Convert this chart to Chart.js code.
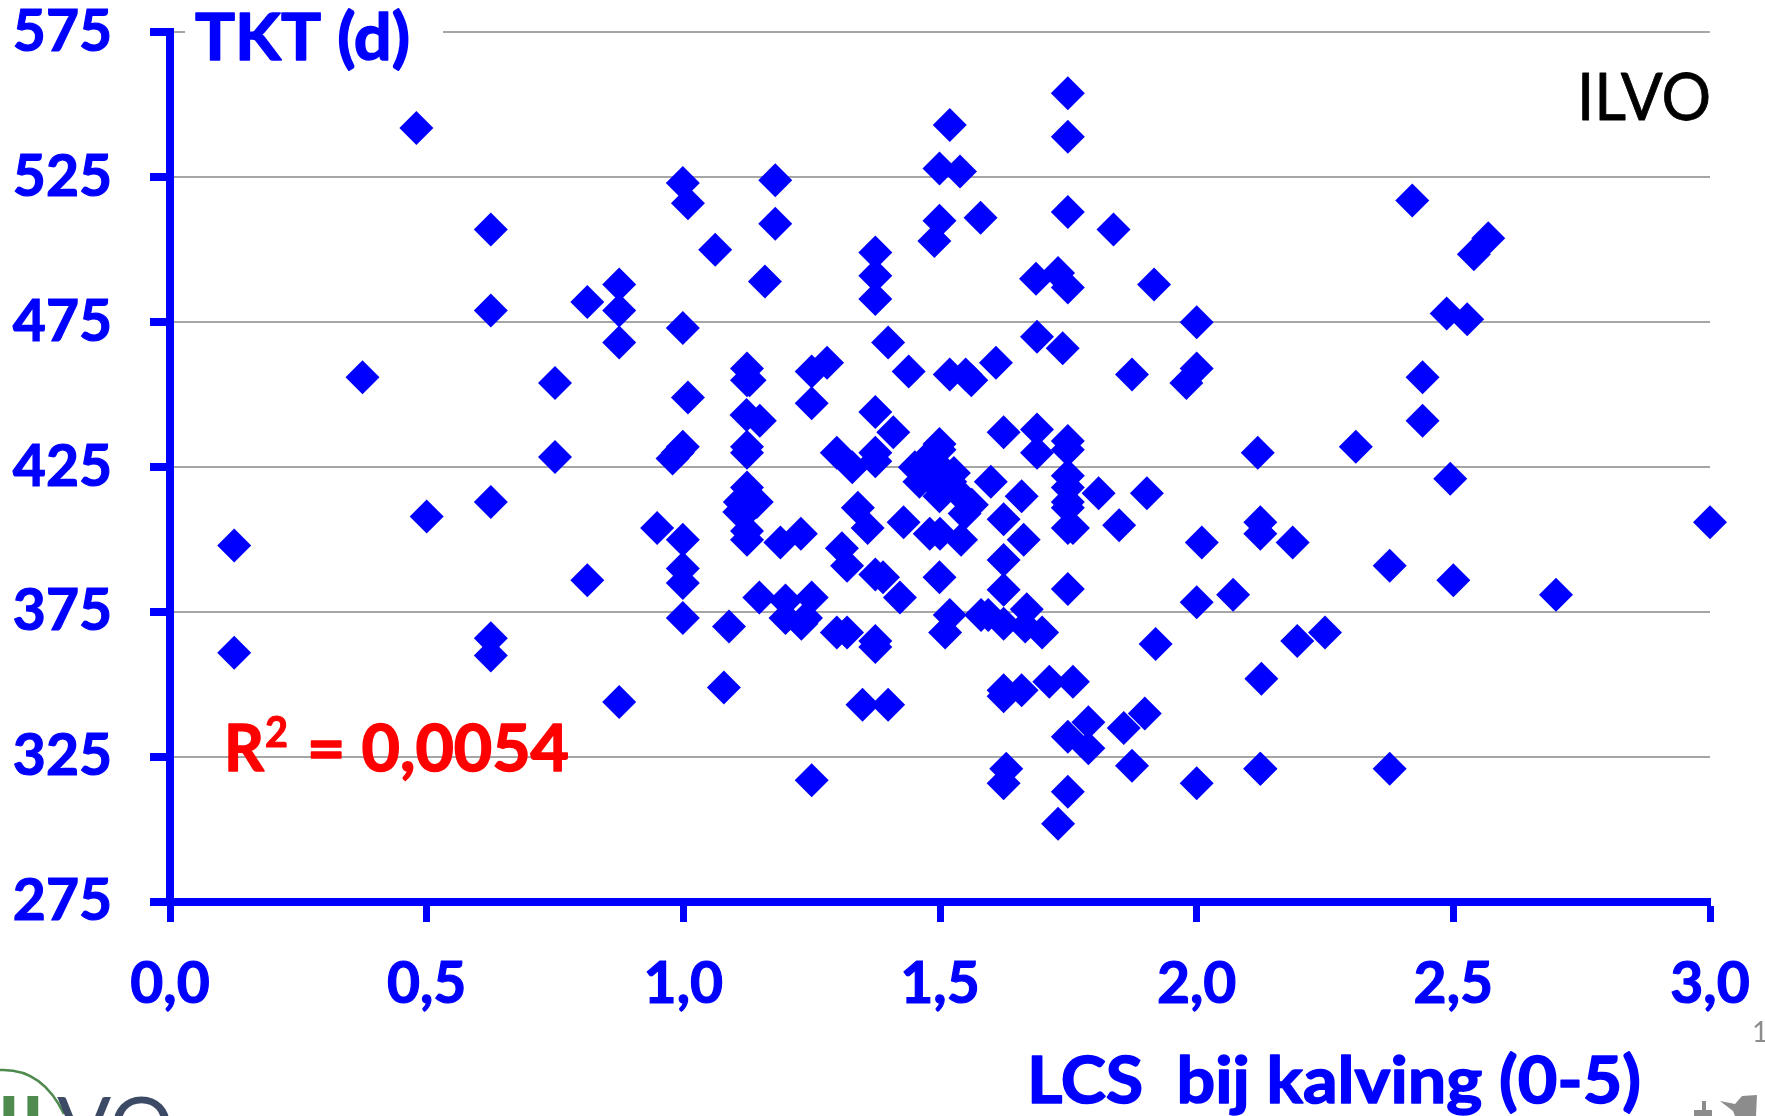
<!DOCTYPE html>
<html><head><meta charset="utf-8">
<style>html,body{margin:0;padding:0;background:#fff}canvas{display:block}</style>
<script src="https://cdn.jsdelivr.net/npm/chart.js@4/dist/chart.umd.min.js"></script>
</head><body><canvas id="c" width="1765" height="1116" style="width:1765px;height:1116px"></canvas>
<script>
const lcsValues = [
0.125,0.125,0.375,0.48,0.5,0.625,0.625,0.625,0.625,0.625,0.75,0.75,0.813,0.813,0.875,0.875,0.875,0.875,
0.999,1.009,1.062,0.999,1.009,0.999,0.979,0.989,0.949,0.999,0.999,0.999,0.999,1.089,1.079,
1.179,1.179,1.159,1.124,1.129,1.124,1.123,1.149,1.124,1.124,1.124,1.143,1.11,1.109,1.124,1.124,1.124,1.189,1.229,
1.148,1.199,1.25,1.199,1.23,1.239,1.25,1.25,1.25,1.28,
1.299,1.319,1.374,1.374,1.349,1.399,1.374,1.374,1.374,1.399,1.439,1.374,1.409,1.34,1.359,1.429,1.309,1.319,1.374,1.389,1.422,
1.299,1.329,1.374,1.374,1.499,1.499,1.48,1.451,1.46,1.485,1.5,1.527,1.499,1.548,1.562,1.548,1.52,1.475,1.51,1.48,1.5,1.541,1.499,
1.519,1.51,1.58,1.594,1.519,1.499,1.539,1.499,1.489,1.579,1.519,1.55,1.561,1.609,
1.599,1.659,1.624,1.663,1.624,1.624,1.624,1.669,1.666,1.699,1.624,1.624,1.659,1.713,1.759,1.629,1.624,
1.689,1.689,1.624,1.687,1.73,1.689,1.739,1.73,
1.749,1.749,1.749,1.749,1.749,1.749,1.749,1.749,1.749,1.749,1.749,1.759,1.749,1.789,1.749,1.789,1.749,
1.809,1.838,1.849,1.858,1.874,1.874,1.899,1.903,1.917,1.92,1.98,2.0,2.0,2.0,2.0,2.01,2.071,
2.119,2.124,2.124,2.124,2.124,2.126,2.187,2.196,2.25,2.31,2.376,2.376,2.42,2.44,2.44,2.487,2.494,2.5,2.527,2.54,2.568,2.7,3.0
];
const tktValues = [
398,361,456,542,408,507,479,413,366,360,454,428.5,482,386,488,479,468,344,
523,516,500,473,449,432,428,430,404,400,390,385,373,370,349,
524,509,489,459,455,455,443,441,432,430,418,413,413,409.5,410,403,400,399,402,
380,379,380,373,371,373,447,458,317,461,
368,368,365,363,343,343,499,491,483,468,458,444,437,411,404,406,397,391,388,387,380,
430,425,430,427,433,431,429,425,420,426,425,423,415,414,412,409,420,422,421,402,402,400,387,
374,368,374,374,543,528,527,510,503,511,457,457,455,461,
420,415,407,400,393,382.7,437,376,370,368,371,348,348,351,351,321,316,
438,430,346,490,492,470,466,302,
554,539,513,487,434,431,422,413,411,383,404,404,332,337,313,328,418,
416,507,405,335,457,322,340,416,488,364,454,475,459,378.4,316,399,381,
430,406,402,321,321,352,399,365,368,432,391,321,517,456,441,478,421,386,476,498.4,504,381,406
];
const xTickLabels = ['0,0','0,5','1,0','1,5','2,0','2,5','3,0'];
const yTickValues = [275,325,375,425,475,525,575];
const blue = '#0000ff';
const tickFont = {family:'Lato', size:57, weight:'bold'};

function fitText(c,t,x,y,w,stroke){
  const m=c.measureText(t).width, k=w/m;
  c.save(); c.translate(x,y); c.scale(k,1);
  if(stroke){c.lineWidth=stroke;c.lineJoin='round';c.strokeStyle=c.fillStyle;c.strokeText(t,0,0);}
  c.fillText(t,0,0); c.restore();
}
const annot = {
  id:'annot',
  afterDraw(ch){
    const c = ch.ctx; c.save();
    c.textBaseline='alphabetic'; c.textAlign='left';
    c.fillStyle='#fff'; c.fillRect(185,20,258,40);
    c.fillStyle=blue; c.font='bold 65px Lato';
    fitText(c,'TKT (d)',195,60,215,1.5);
    fitText(c,'LCS  bij kalving (0-5)',1027,1103,614,1.5);
    c.fillStyle='#ff0000';
    fitText(c,'R',224,771,40,1.5);
    c.font='bold 42px Lato'; fitText(c,'2',265,747,23,1);
    c.font='bold 65px Lato'; fitText(c,'= 0,0054',307,771,262,1.5);
    c.fillStyle='#000'; c.font='65px Lato';
    fitText(c,'ILVO',1577,120,134,0.8);
    c.fillStyle='#8c8c8c'; c.font='28px Lato'; c.fillText('1',1752,1042);
    c.beginPath();c.moveTo(1720,1101);c.lineTo(1735,1104);c.lineTo(1742,1096);c.lineTo(1757,1095);c.lineTo(1756,1116);c.lineTo(1735,1116);c.lineTo(1733,1111);c.closePath();c.fill();
    c.fillRect(1694,1110,18,6);c.fillRect(1702,1101,4,10);
    c.fillStyle='#4f8a4f'; c.font='bold 80px Lato';
    c.fillText('I',-3,1154); c.fillText('L',21,1154);
    c.strokeStyle='#4f8a4f'; c.lineWidth=2.5;
    c.beginPath(); c.moveTo(0,1070); c.quadraticCurveTo(42,1068,64,1114); c.stroke();
    c.fillStyle='#3c4a66'; c.font='80px Lato'; c.fillText('VO',57,1154);
    c.restore();
  }
};

new Chart(document.getElementById('c'),{
  type:'scatter',
  data:{datasets:[{
    data:lcsValues.map((x,i)=>({x,y:tktValues[i]})),
    pointStyle:'rectRot', pointRadius:17, pointHoverRadius:17,
    pointBackgroundColor:blue, pointBorderWidth:0, clip:false
  }]},
  options:{
    responsive:false, animation:false, devicePixelRatio:1,
    layout:{padding:{left:0,right:55,top:32.3,bottom:0}},
    plugins:{legend:{display:false},tooltip:{enabled:false},title:{display:false}},
    scales:{
      x:{type:'linear',min:0,max:3,
        afterFit(s){s.height=214;s.paddingLeft=0;s.paddingRight=0;},
        border:{color:blue,width:8,z:2},
        grid:{display:true,drawOnChartArea:false,drawTicks:true,tickColor:blue,tickWidth:7,tickLength:20},
        afterBuildTicks(s){s.ticks=xTickLabels.map((_,i)=>({value:i*0.5}));},
        ticks:{color:blue,font:tickFont,padding:28,maxRotation:0,autoSkip:false,textStrokeColor:blue,textStrokeWidth:1.2,
          callback:(v,i)=>xTickLabels[i]}
      },
      y:{type:'linear',min:275,max:575,
        afterFit(s){s.width=170;s.paddingTop=0;s.paddingBottom=0;},
        border:{color:blue,width:8,z:2},
        grid:{color:'#a6a6a6',lineWidth:2,drawTicks:true,tickColor:blue,tickWidth:8,tickLength:20},
        afterBuildTicks(s){s.ticks=yTickValues.map(value=>({value}));},
        ticks:{color:blue,font:tickFont,padding:38,autoSkip:false,textStrokeColor:blue,textStrokeWidth:1.2}
      }
    }
  },
  plugins:[annot]
});
</script>
</body></html>
